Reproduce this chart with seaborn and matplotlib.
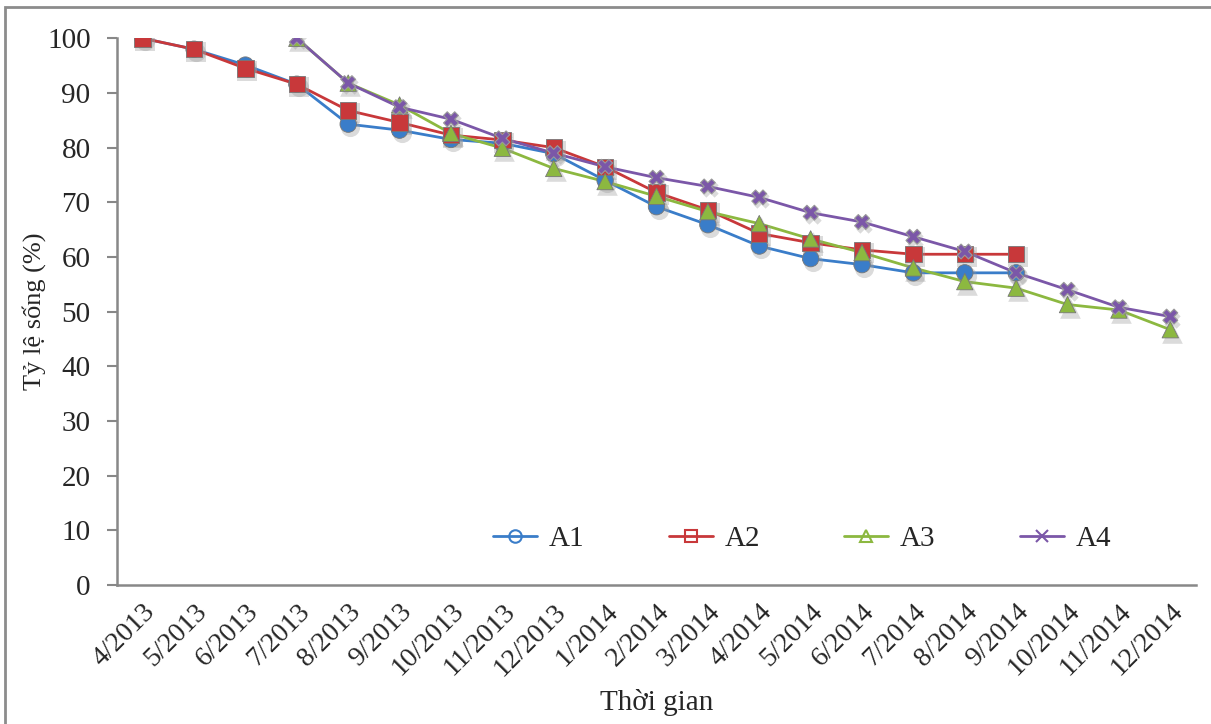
import matplotlib
matplotlib.use("Agg")
import matplotlib.pyplot as plt
import matplotlib.transforms as mtransforms
from matplotlib.lines import Line2D
from matplotlib.patches import Rectangle
import seaborn as sns
import pandas as pd
import numpy as np

months = ["4/2013", "5/2013", "6/2013", "7/2013", "8/2013", "9/2013", "10/2013",
          "11/2013", "12/2013", "1/2014", "2/2014", "3/2014", "4/2014", "5/2014",
          "6/2014", "7/2014", "8/2014", "9/2014", "10/2014", "11/2014", "12/2014"]
A1 = [100, 98, 95.1, 91.6, 84.3, 83.2, 81.5, 80.8, 78.9, 74.0, 69.2, 65.9, 62.0,
      59.7, 58.6, 57.1, 57.1, 57.1, None, None, None]
A2 = [100, 98, 94.5, 91.6, 86.8, 84.6, 82.3, 81.4, 80.0, 76.5, 71.8, 68.6, 64.3,
      62.6, 61.3, 60.5, 60.5, 60.5, None, None, None]
A3 = [None, None, None, 100, 91.8, 87.8, 82.6, 79.9, 76.2, 73.8, 71.1, 68.3, 66.1,
      63.3, 60.8, 58.0, 55.5, 54.3, 51.3, 50.3, 46.7]
A4 = [None, None, None, 100, 91.8, 87.4, 85.2, 81.7, 79.0, 76.5, 74.5, 72.9, 70.9,
      68.1, 66.4, 63.7, 61.0, 57.1, 54.0, 50.8, 49.1]
series_names = ["A1", "A2", "A3", "A4"]
yticks = [0, 10, 20, 30, 40, 50, 60, 70, 80, 90, 100]

colors = {"A1": "#3A7DC9", "A2": "#C8383A", "A3": "#8CB840", "A4": "#7B57A8"}
markers = {"A1": "o", "A2": "s", "A3": "^", "A4": "X"}
msizes = {"A1": 190, "A2": 200, "A3": 220, "A4": 140}

rows = []
for name, vals in zip(series_names, [A1, A2, A3, A4]):
    for i, v in enumerate(vals):
        if v is not None:
            rows.append({"month": i, "label": months[i], "series": name, "value": v})
df = pd.DataFrame(rows)

sns.set_theme(style="white")
plt.rcParams["font.family"] = ["Liberation Serif", "DejaVu Serif"]

fig = plt.figure(figsize=(12.11, 7.24), dpi=100)
ax = fig.add_axes([117 / 1211, 1 - 585 / 724, (1196 - 117) / 1211, (585 - 38.3) / 724])

sns.lineplot(data=df, x="month", y="value", hue="series", palette=colors,
             linewidth=2, legend=False, ax=ax, sort=True, estimator=None)

# marker shadows
shadow_tr = mtransforms.offset_copy(ax.transData, fig=fig, x=2, y=-3, units="dots")
for name in series_names:
    sub = df[df.series == name]
    ax.scatter(sub.month, sub.value, s=msizes[name], marker=markers[name],
               color="#999999", alpha=0.35, linewidths=0, transform=shadow_tr, zorder=3)

sns.scatterplot(data=df[df.series != "A4"], x="month", y="value", hue="series",
                style="series", markers=markers, palette=colors, s=140, linewidth=0.6,
                edgecolor="#777777", legend=False, ax=ax, zorder=4)
sns.scatterplot(data=df[df.series == "A4"], x="month", y="value", hue="series",
                style="series", markers=markers, palette=colors, s=115, linewidth=0.8,
                edgecolor="#9a9a9a", legend=False, ax=ax, zorder=4)

ax.set_xlim(-0.5, len(months) - 0.5)
ax.set_ylim(0, 100)
ax.set_yticks(yticks)
ax.set_yticklabels([str(t) for t in yticks], fontsize=21)
ax.set_xticks(np.arange(len(months)))
ax.set_xticklabels(months, rotation=45, ha="right", rotation_mode="anchor", fontsize=20)
ax.set_xticks(np.arange(len(months) + 1) - 0.5, minor=True)
ax.tick_params(axis="x", which="major", length=0, pad=10)
ax.tick_params(axis="x", which="minor", length=7, width=1.5, color="#888888", direction="out")
ax.tick_params(axis="y", length=7, width=1.5, color="#888888", direction="out", pad=12, left=True)

for s in ["top", "right"]:
    ax.spines[s].set_visible(False)
for s in ["left", "bottom"]:
    ax.spines[s].set_color("#888888")
    ax.spines[s].set_linewidth(1.8)

ax.set_xlabel("Thời gian", fontsize=21, labelpad=6)
ax.set_ylabel("Tỷ lệ sống (%)", fontsize=19, labelpad=1)

handles = [Line2D([0], [0], color=colors[n], marker=markers[n] if n != "A4" else "x",
                  markersize=9, markerfacecolor="none" if n != "A4" else colors[n],
                  markeredgewidth=1.5, linewidth=2) for n in series_names]
ax.legend(handles, series_names, loc="center", bbox_to_anchor=(0.635, 0.085), ncol=4,
          frameon=False, fontsize=21, columnspacing=2.9, handlelength=1.5, handletextpad=0.4)

fig.patches.append(Rectangle((5 / 1211, -0.05), 1.2, 1 - 7 / 724 + 0.05,
                             transform=fig.transFigure, fill=False,
                             edgecolor="#8c8c8c", linewidth=2, zorder=-1))

fig.savefig("out.png", dpi=100)
